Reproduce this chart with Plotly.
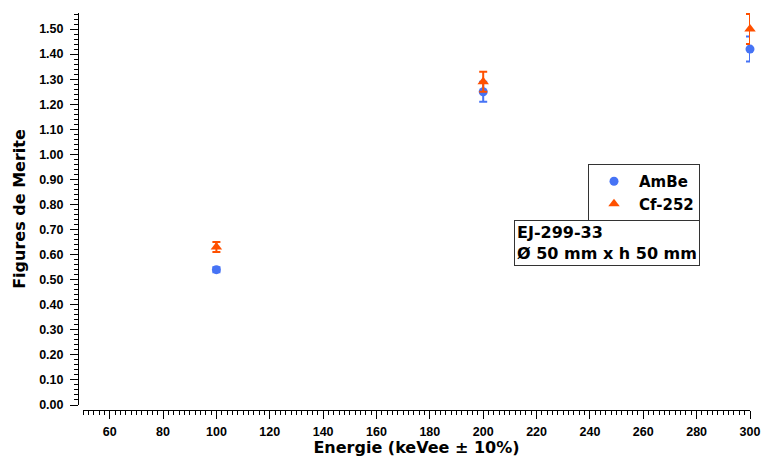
import plotly.graph_objects as go

energy = [100, 200, 300]
ambe_fom = [0.54, 1.25, 1.42]
ambe_err = [0.01, 0.04, 0.05]
cf_fom = [0.63, 1.29, 1.50]
cf_err = [0.02, 0.04, 0.06]

x_ticks = [60, 80, 100, 120, 140, 160, 180, 200, 220, 240, 260, 280, 300]
y_ticks = [round(i * 0.1, 2) for i in range(16)]

BLUE = "#4673f5"
ORANGE = "#ff5000"
TICKFONT = "Liberation Sans, Arial, Helvetica, sans-serif"
WIDEFONT = "DejaVu Sans, Verdana, sans-serif"

W, H = 764, 457
L, R, T, B = 78, 14, 13, 47
plot_w = W - L - R
plot_h = H - T - B

fig = go.Figure()
fig.add_trace(go.Scatter(
    x=energy, y=ambe_fom, mode="markers", name="AmBe",
    marker=dict(symbol="circle", size=9, color=BLUE),
    error_y=dict(type="data", array=ambe_err, visible=True, color=BLUE, thickness=2, width=4),
    cliponaxis=False,
))
fig.add_trace(go.Scatter(
    x=energy, y=cf_fom, mode="markers", name="Cf-252",
    marker=dict(symbol="triangle-up", size=10, color=ORANGE),
    error_y=dict(type="data", array=cf_err, visible=True, color=ORANGE, thickness=2, width=4),
    cliponaxis=False,
))

fig.update_layout(
    width=W, height=H,
    margin=dict(l=L, r=R, t=T, b=B, pad=0, autoexpand=False),
    paper_bgcolor="white", plot_bgcolor="white",
    font=dict(family=TICKFONT, size=12, color="black", weight="bold"),
    xaxis=dict(
        domain=[5 / plot_w, 1], range=[50, 300], anchor="free", position=0,
        automargin=False,
        tickvals=x_ticks, ticktext=[str(v) for v in x_ticks],
        ticks="outside", ticklen=8, tickwidth=1, tickcolor="black",
        ticklabelstandoff=2,
        showline=True, linecolor="black", linewidth=1, showgrid=False, zeroline=False,
        minor=dict(dtick=2, tick0=0, ticks="outside", ticklen=4, tickcolor="black", tickwidth=1),
        tickfont=dict(size=12.5, family=TICKFONT, weight="bold"),
        title=dict(text="Energie (keVee ± 10%)", font=dict(size=16, family=WIDEFONT, weight="bold"), standoff=3),
    ),
    yaxis=dict(
        domain=[5 / plot_h, 1], range=[0, 1.564], anchor="free", position=0,
        automargin=False,
        tickvals=y_ticks, ticktext=[f"{v:.2f}" for v in y_ticks],
        ticks="outside", ticklen=8, tickwidth=1, tickcolor="black",
        ticklabelstandoff=4,
        showline=True, linecolor="black", linewidth=1, showgrid=False, zeroline=False,
        minor=dict(dtick=0.02, tick0=0, ticks="outside", ticklen=4, tickcolor="black", tickwidth=1),
        tickfont=dict(size=12.5, family=TICKFONT, weight="bold"),
        title=dict(text="Figures de Merite", font=dict(size=16, family=WIDEFONT, weight="bold"), standoff=8),
    ),
    legend=dict(
        x=(588 - L) / plot_w, y=(H - B - 164) / plot_h, xanchor="left", yanchor="top",
        bordercolor="#333333", borderwidth=1, bgcolor="white",
        font=dict(size=15, family=WIDEFONT, weight="bold"),
        itemwidth=40, tracegroupgap=0,
    ),
    showlegend=True,
    annotations=[dict(
        text="EJ-299-33<br>Ø 50 mm x h 50 mm",
        x=(514 - L) / plot_w, y=(H - B - 220) / plot_h, xref="paper", yref="paper",
        xanchor="left", yanchor="top", align="left", showarrow=False,
        font=dict(size=16, family=WIDEFONT, weight="bold"),
        bordercolor="#333333", borderwidth=1, borderpad=2, bgcolor="white",
    )],
)

fig.write_html(
    "out.html",
    config={"displayModeBar": False},
    post_script="document.body.style.margin='0';document.body.style.overflow='hidden';",
)
